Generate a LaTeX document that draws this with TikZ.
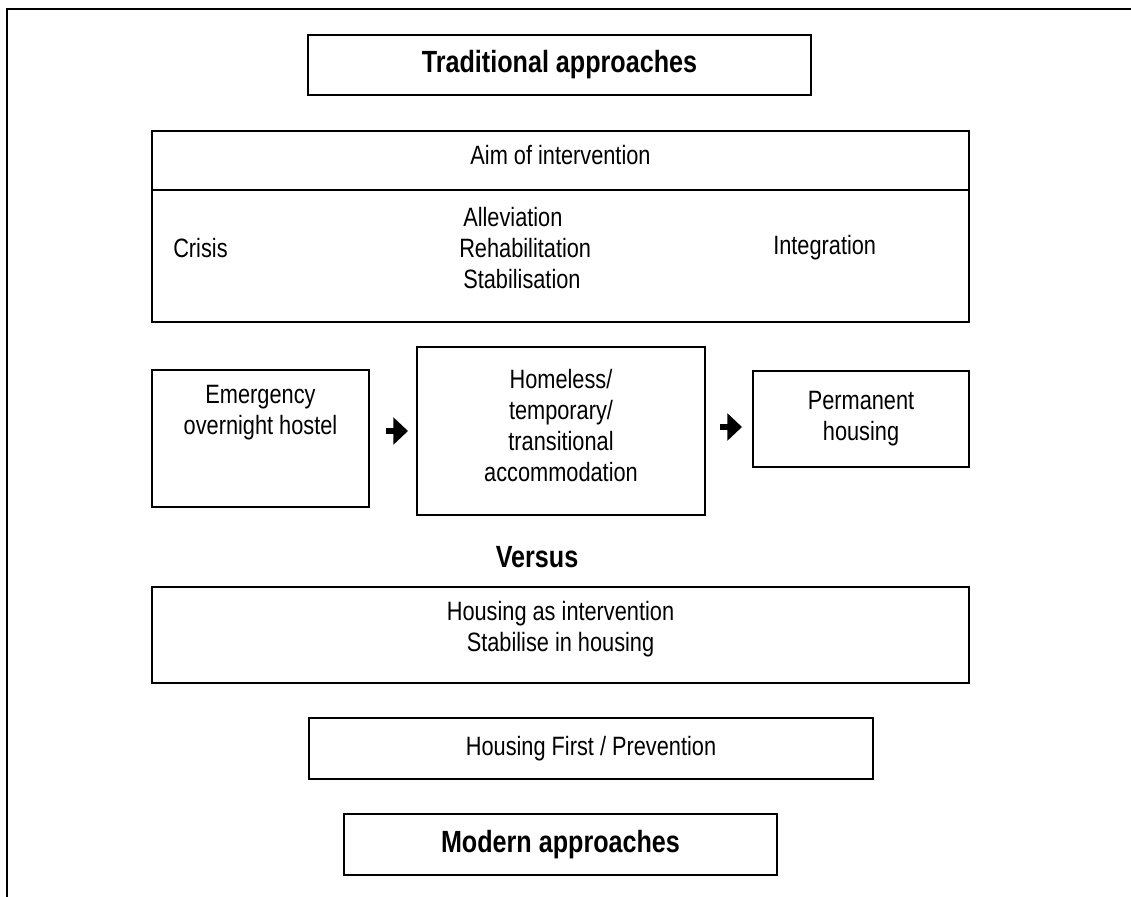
\documentclass[tikz,border=0pt]{standalone}
\usepackage{fontspec}
\setmainfont{Liberation Sans}[FakeStretch=0.82]
\usetikzlibrary{arrows.meta}

\tikzset{
	box/.style={draw,line width=1.5pt,inner sep=0pt,align=center},
	txt/.style={inner sep=0pt,align=center},
	headtxt/.style={font=\fontsize{23pt}{27pt}\selectfont\bfseries},
	bigarrow/.style={line width=5pt,-{Triangle[length=11pt,width=20pt]}}
}

\begin{document}
\begin{tikzpicture}[x=0.75pt,y=-0.75pt,font=\fontsize{19.9pt}{23.25pt}\selectfont]
	\useasboundingbox (0,0) rectangle (1131,896);
	\draw[line width=2pt] (7,9) rectangle (1145,910);

	\node[box,headtxt,minimum width=377.25pt,minimum height=45pt] (trad) at (559.5,65) {Traditional approaches};

	\node[box,minimum width=612.75pt,minimum height=143.25pt] (aim) at (560.5,226.5) {};
	\draw[line width=1.5pt] (aim.west |- 0,190) -- (aim.east |- 0,190);
	\node[txt] (aimtitle) at (560.5,155) {Aim of intervention};
	\node[txt,anchor=west] (crisis) at (173,248) {Crisis};
	\node[txt,anchor=west,align=left] (stages) at (459,248) {\hspace{3pt}Alleviation\\Rehabilitation\\\hspace{3pt}Stabilisation};
	\node[txt,anchor=west] (integ) at (773,248) {Integration};

	\node[box,minimum width=162.75pt,minimum height=102.75pt] (emerg) at (260.5,438.5) {};
	\node[txt] (emergtxt) at (260.5,413) {Emergency\\overnight hostel};
	\node[box,minimum width=216pt,minimum height=126pt] (homeless) at (561,431) {};
	\node[txt] (homelesstxt) at (561,426) {Homeless/\\temporary/\\transitional\\accommodation};
	\node[box,minimum width=162pt,minimum height=72pt] (perm) at (861,419) {Permanent\\housing};

	\draw[bigarrow,shorten <=12pt,shorten >=6pt] (emerg.east |- homeless.west) -- (homeless.west);
	\draw[bigarrow,shorten <=10.5pt,shorten >=7.5pt] ([yshift=3pt]homeless.east) -- ([yshift=3pt]perm.west |- homeless.east);

	\node[txt,headtxt] (versus) at (537,557) {Versus};

	\node[box,minimum width=612.75pt,minimum height=72pt] (hint) at (560.5,635) {};
	\node[txt] (hinttxt) at (560.5,629) {Housing as intervention\\Stabilise in housing};
	\node[box,minimum width=423pt,minimum height=45.75pt] (hfirst) at (591,748.5) {Housing First / Prevention};

	\node[box,headtxt,minimum width=324.75pt,minimum height=45.75pt] (modern) at (560.5,844.5) {Modern approaches};
\end{tikzpicture}
\end{document}
